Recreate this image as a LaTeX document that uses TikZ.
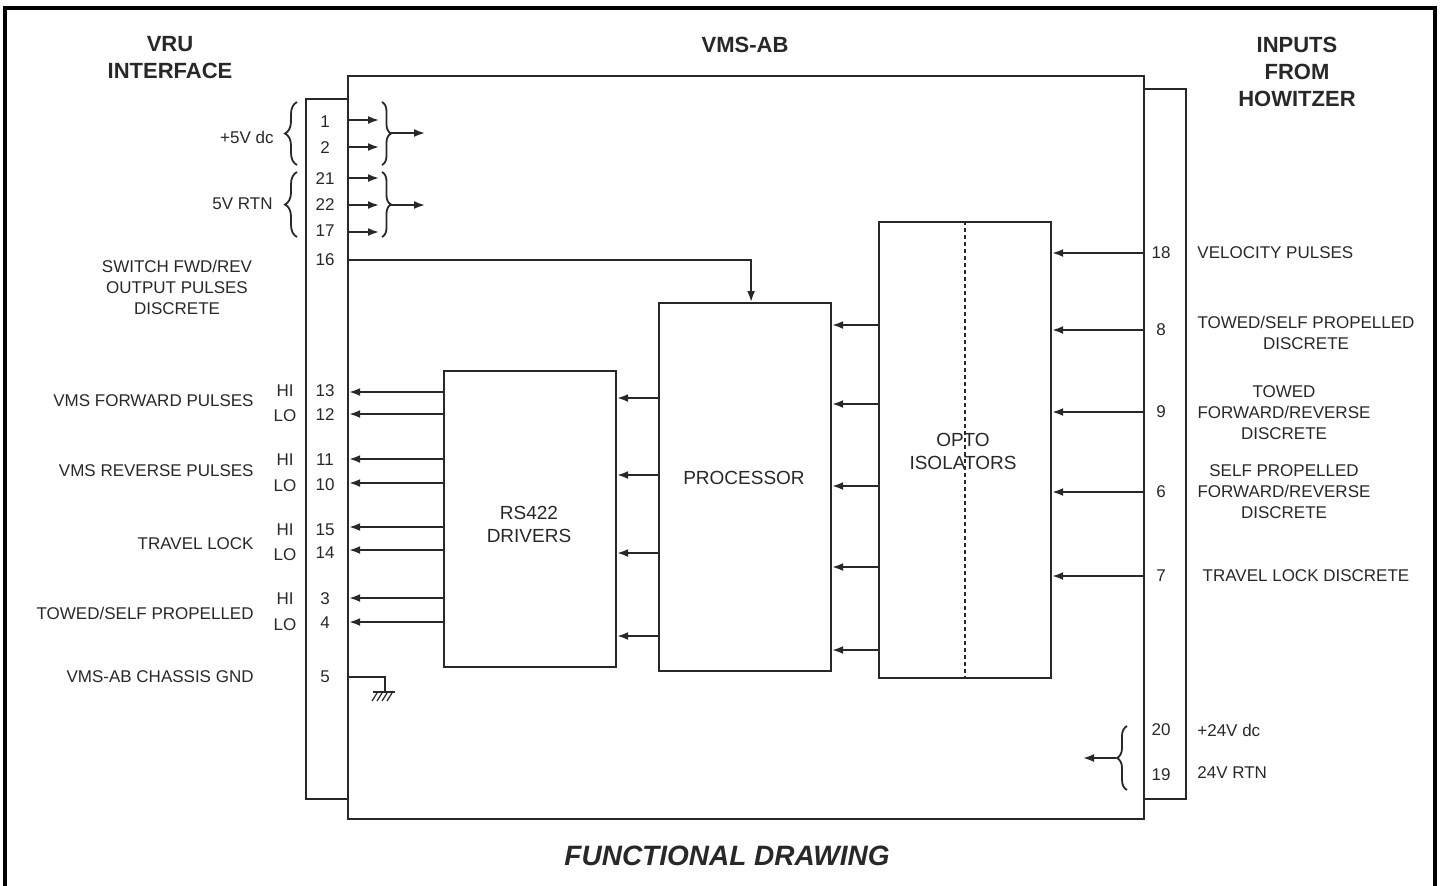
\documentclass[tikz,border=0pt]{standalone}
\usepackage{fontspec}
\setmainfont{Liberation Sans}
\usetikzlibrary{arrows.meta,decorations.pathreplacing,calc}
\definecolor{ink}{RGB}{40,40,40}
\tikzset{
  lbl/.style={font=\fontsize{8.5}{10.5}\selectfont, inner sep=0pt, text=ink},
  hdr/.style={font=\fontsize{11}{13.5}\selectfont\bfseries, inner sep=0pt, align=center, text=ink},
  blk/.style={draw=ink, line width=1.1pt, anchor=north west, inner sep=0pt},
  arr/.style={draw=ink, line width=0.9pt, -{Latex[length=5.5pt,width=4pt]}},
  wire/.style={draw=ink, line width=0.9pt},
  lbrace/.style={draw=ink, line width=0.9pt, decorate, decoration={brace, amplitude=#1}},
}
\begin{document}
\begin{tikzpicture}[x=0.5pt,y=-0.5pt]
\useasboundingbox (0,0) rectangle (1440,885);
% outer frame
\draw[line width=1.6pt] (5,895) -- (5,8) -- (1435,8) -- (1435,895);

% blocks
\node[blk, minimum width=398pt, minimum height=371.5pt] (main) at (347,75) {};
\node[blk, minimum width=21pt, minimum height=350pt] (lstrip) at (305,98) {};
\node[blk, minimum width=21pt, minimum height=355pt] (rstrip) at (1143,88) {};
\node[blk, minimum width=86pt, minimum height=148pt] (rs) at (443,370) {};
\node[blk, minimum width=86pt, minimum height=184pt] (proc) at (658,302) {};
\node[blk, minimum width=86pt, minimum height=228pt] (opto) at (878,221) {};
\draw[draw=ink, line width=1pt, dash pattern=on 2pt off 1.5pt] (opto.north) -- (opto.south);

% block texts
\node[lbl, align=center, font=\fontsize{9.5}{11.5}\selectfont] (rstxt) at (529,524) {RS422\\DRIVERS};
\node[lbl, font=\fontsize{9.5}{11.5}\selectfont] (proctxt) at (744,478) {PROCESSOR};
\node[lbl, align=center, font=\fontsize{9.5}{11.5}\selectfont] (optotxt) at (963,451) {OPTO\\ISOLATORS};

% headers
\node[hdr] (h1) at (170,58) {VRU\\INTERFACE};
\node[hdr] (h2) at (745,45) {VMS-AB};
\node[hdr] (h3) at (1297,72) {INPUTS\\FROM\\HOWITZER};
\node[font=\fontsize{14}{16}\selectfont\bfseries\itshape, inner sep=0pt, text=ink] (title) at (727,856) {FUNCTIONAL DRAWING};

% left pins
\foreach \n/\y in {1/122,2/148,21/179,22/205,17/231,16/260,13/391,12/415,11/460,10/485,15/530,14/553,3/599,4/623,5/677}
  \node[lbl] (p\n) at (325,\y) {\n};
% right pins
\foreach \n/\y in {18/253,8/330,9/412,6/492,7/576,20/730,19/775}
  \node[lbl] (q\n) at (1161,\y) {\n};

% HI / LO
\foreach \y/\k in {391/a,460/b,530/c,599/d}
  \node[lbl] (hi\k) at (285,\y) {HI};
\foreach \y/\k in {416/a,486/b,555/c,625/d}
  \node[lbl] (lo\k) at (285,\y) {LO};

% left labels
\node[lbl, anchor=east] (l5v) at (274,137) {+5V dc};
\node[lbl, anchor=east] (l5r) at (273,204) {5V RTN};
\node[lbl, align=center] (lsw) at (177,287) {SWITCH FWD/REV\\OUTPUT PULSES\\DISCRETE};
\node[lbl, anchor=east] (lfp) at (254,401) {VMS FORWARD PULSES};
\node[lbl, anchor=east] (lrp) at (254,471) {VMS REVERSE PULSES};
\node[lbl, anchor=east] (ltl) at (254,544) {TRAVEL LOCK};
\node[lbl, anchor=east] (lts) at (254,613) {TOWED/SELF PROPELLED};
\node[lbl, anchor=east] (lgnd) at (254,677) {VMS-AB CHASSIS GND};

% right labels
\node[lbl, anchor=west] (rvp) at (1197,253) {VELOCITY PULSES};
\node[lbl, align=center] (rts) at (1306,333) {TOWED/SELF PROPELLED\\DISCRETE};
\node[lbl, align=center] (rtf) at (1284,413) {TOWED\\FORWARD/REVERSE\\DISCRETE};
\node[lbl, align=center] (rsp) at (1284,492) {SELF PROPELLED\\FORWARD/REVERSE\\DISCRETE};
\node[lbl] (rtl) at (1306,576) {TRAVEL LOCK DISCRETE};
\node[lbl, anchor=west] (r24) at (1197,730) {+24V dc};
\node[lbl, anchor=west] (r24r) at (1197,773) {24V RTN};

% power braces (left side)
\draw[lbrace=6pt] (297,165) -- (297,102);
\draw[lbrace=6pt] (297,237) -- (297,172);

% power arrows into right braces
\coordinate (b1) at (381,120);
\coordinate (b2) at (381,147);
\coordinate (b21) at (381,178);
\coordinate (b22) at (381,205);
\coordinate (b17) at (381,232);
\foreach \k in {1,2,21,22,17}
  \draw[arr] (lstrip.east |- b\k) -- ([xshift=-1pt]b\k);
\draw[lbrace=4.5pt] (382,102) -- (382,165);
\draw[lbrace=4.5pt] (382,172) -- (382,237);
\coordinate (t1) at (391,133);
\coordinate (t2) at (391,205);
\coordinate (e1) at (425,133);
\coordinate (e2) at (425,205);
\draw[arr] (t1) -- (e1);
\draw[arr] (t2) -- (e2);

% pin 16 to processor
\draw[arr] (lstrip.east |- p16) -| ([xshift=3pt]proc.north);

% RS422 outputs
\foreach \k/\y in {13/392,12/414,11/459,10/483,15/527,14/550,3/598,4/622}
  \draw[arr] (rs.west |- 0,\y) -- (lstrip.east |- 0,\y);

% processor to RS422
\foreach \y in {398,475,553,636}
  \draw[arr] (proc.west |- 0,\y) -- (rs.east |- 0,\y);

% opto to processor
\foreach \y in {325,404,486,567,650}
  \draw[arr] (opto.west |- 0,\y) -- (proc.east |- 0,\y);

% inputs to opto
\foreach \k in {18,8,9,6,7}
  \draw[arr] (rstrip.west |- q\k) -- (opto.east |- q\k);

% ground
\coordinate (g) at (385,692);
\draw[wire] (lstrip.east |- p5) -| (g);
\draw[wire] (373,692) -- (395,692);
\foreach \x in {377,382,387,392}
  \draw[draw=ink, line width=0.6pt] (\x,693) -- (\x-5,701);

% 24V brace
\draw[lbrace=5pt] (1127,790) -- (1127,726);
\coordinate (t24) at (1116,758);
\coordinate (e24) at (1083,758);
\draw[arr] (t24) -- (e24);
\end{tikzpicture}
\end{document}
